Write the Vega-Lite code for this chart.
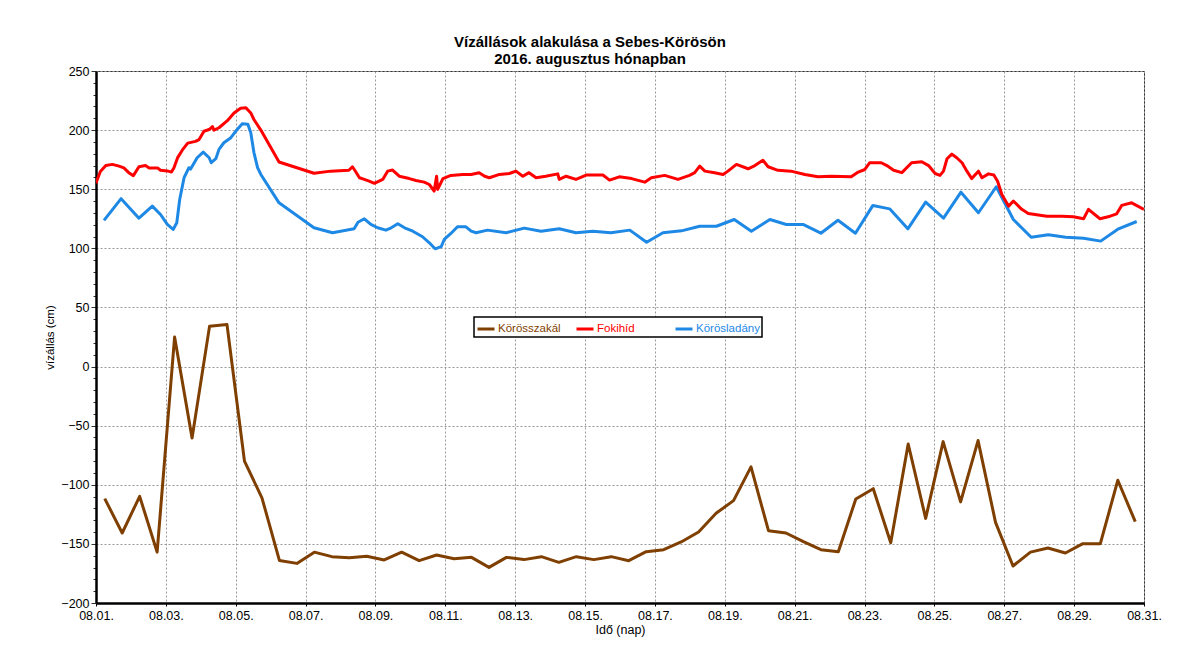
{
  "$schema": "https://vega.github.io/schema/vega-lite/v6.json",
  "width": 1048,
  "height": 532,
  "autosize": "none",
  "padding": {"left": 96, "top": 71, "right": 35, "bottom": 44},
  "background": "white",
  "title": {
    "text": ["Vízállások alakulása a Sebes-Körösön", "2016. augusztus hónapban"],
    "font": "Liberation Sans",
    "fontSize": 15,
    "fontWeight": "bold",
    "color": "black",
    "anchor": "middle",
    "dx": -30,
    "offset": -2,
    "lineHeight": 17
  },
  "config": {
    "view": {"stroke": "#333333", "strokeWidth": 1},
    "font": "Liberation Sans"
  },
  "data": {
    "values": [
      {"t": "2016-08-01T06:00", "s": "Körösszakál", "v": -111.7},
      {"t": "2016-08-01T18:00", "s": "Körösszakál", "v": -140.8},
      {"t": "2016-08-02T06:00", "s": "Körösszakál", "v": -109.8},
      {"t": "2016-08-02T18:00", "s": "Körösszakál", "v": -157},
      {"t": "2016-08-03T06:00", "s": "Körösszakál", "v": 25},
      {"t": "2016-08-03T18:00", "s": "Körösszakál", "v": -60.4},
      {"t": "2016-08-04T06:00", "s": "Körösszakál", "v": 34},
      {"t": "2016-08-04T18:00", "s": "Körösszakál", "v": 35.5},
      {"t": "2016-08-05T06:00", "s": "Körösszakál", "v": -80},
      {"t": "2016-08-05T18:00", "s": "Körösszakál", "v": -111},
      {"t": "2016-08-06T06:00", "s": "Körösszakál", "v": -164},
      {"t": "2016-08-06T18:00", "s": "Körösszakál", "v": -166.5},
      {"t": "2016-08-07T06:00", "s": "Körösszakál", "v": -157},
      {"t": "2016-08-07T18:00", "s": "Körösszakál", "v": -160.8},
      {"t": "2016-08-08T06:00", "s": "Körösszakál", "v": -161.7},
      {"t": "2016-08-08T18:00", "s": "Körösszakál", "v": -160.5},
      {"t": "2016-08-09T06:00", "s": "Körösszakál", "v": -163.6},
      {"t": "2016-08-09T18:00", "s": "Körösszakál", "v": -157},
      {"t": "2016-08-10T06:00", "s": "Körösszakál", "v": -164.2},
      {"t": "2016-08-10T18:00", "s": "Körösszakál", "v": -159.4},
      {"t": "2016-08-11T06:00", "s": "Körösszakál", "v": -162.5},
      {"t": "2016-08-11T18:00", "s": "Körösszakál", "v": -161.4},
      {"t": "2016-08-12T06:00", "s": "Körösszakál", "v": -169.9},
      {"t": "2016-08-12T18:00", "s": "Körösszakál", "v": -161.4},
      {"t": "2016-08-13T06:00", "s": "Körösszakál", "v": -163.3},
      {"t": "2016-08-13T18:00", "s": "Körösszakál", "v": -160.8},
      {"t": "2016-08-14T06:00", "s": "Körösszakál", "v": -165.6},
      {"t": "2016-08-14T18:00", "s": "Körösszakál", "v": -160.8},
      {"t": "2016-08-15T06:00", "s": "Körösszakál", "v": -163.3},
      {"t": "2016-08-15T18:00", "s": "Körösszakál", "v": -160.8},
      {"t": "2016-08-16T06:00", "s": "Körösszakál", "v": -164.2},
      {"t": "2016-08-16T18:00", "s": "Körösszakál", "v": -156.6},
      {"t": "2016-08-17T06:00", "s": "Körösszakál", "v": -154.9},
      {"t": "2016-08-17T18:00", "s": "Körösszakál", "v": -148.4},
      {"t": "2016-08-18T06:00", "s": "Körösszakál", "v": -139.9},
      {"t": "2016-08-18T18:00", "s": "Körösszakál", "v": -124.1},
      {"t": "2016-08-19T06:00", "s": "Körösszakál", "v": -113.4},
      {"t": "2016-08-19T18:00", "s": "Körösszakál", "v": -84.9},
      {"t": "2016-08-20T06:00", "s": "Körösszakál", "v": -138.8},
      {"t": "2016-08-20T18:00", "s": "Körösszakál", "v": -140.8},
      {"t": "2016-08-21T06:00", "s": "Körösszakál", "v": -148.1},
      {"t": "2016-08-21T18:00", "s": "Körösszakál", "v": -154.9},
      {"t": "2016-08-22T06:00", "s": "Körösszakál", "v": -156.6},
      {"t": "2016-08-22T18:00", "s": "Körösszakál", "v": -112},
      {"t": "2016-08-23T06:00", "s": "Körösszakál", "v": -103.3},
      {"t": "2016-08-23T18:00", "s": "Körösszakál", "v": -149},
      {"t": "2016-08-24T06:00", "s": "Körösszakál", "v": -65.5},
      {"t": "2016-08-24T18:00", "s": "Körösszakál", "v": -128.4},
      {"t": "2016-08-25T06:00", "s": "Körösszakál", "v": -63.5},
      {"t": "2016-08-25T18:00", "s": "Körösszakál", "v": -114.5},
      {"t": "2016-08-26T06:00", "s": "Körösszakál", "v": -62.6},
      {"t": "2016-08-26T18:00", "s": "Körösszakál", "v": -131.8},
      {"t": "2016-08-27T06:00", "s": "Körösszakál", "v": -168.7},
      {"t": "2016-08-27T18:00", "s": "Körösszakál", "v": -157},
      {"t": "2016-08-28T06:00", "s": "Körösszakál", "v": -153.5},
      {"t": "2016-08-28T18:00", "s": "Körösszakál", "v": -157.7},
      {"t": "2016-08-29T06:00", "s": "Körösszakál", "v": -149.8},
      {"t": "2016-08-29T18:00", "s": "Körösszakál", "v": -149.8},
      {"t": "2016-08-30T06:00", "s": "Körösszakál", "v": -96.2},
      {"t": "2016-08-30T18:00", "s": "Körösszakál", "v": -131.2},

      {"t": "2016-08-01T05:30", "s": "Körösladány", "v": 123.6},
      {"t": "2016-08-01T17:15", "s": "Körösladány", "v": 142},
      {"t": "2016-08-02T05:30", "s": "Körösladány", "v": 125.5},
      {"t": "2016-08-02T14:40", "s": "Körösladány", "v": 135.7},
      {"t": "2016-08-02T20:20", "s": "Körösladány", "v": 128.6},
      {"t": "2016-08-03T01:00", "s": "Körösladány", "v": 120.2},
      {"t": "2016-08-03T05:00", "s": "Körösladány", "v": 116},
      {"t": "2016-08-03T07:30", "s": "Körösladány", "v": 121.6},
      {"t": "2016-08-03T09:30", "s": "Körösladány", "v": 141.3},
      {"t": "2016-08-03T12:30", "s": "Körösladány", "v": 159.7},
      {"t": "2016-08-03T15:50", "s": "Körösladány", "v": 168.2},
      {"t": "2016-08-03T17:00", "s": "Körösladány", "v": 167},
      {"t": "2016-08-03T21:30", "s": "Körösladány", "v": 176.6},
      {"t": "2016-08-04T01:40", "s": "Körösladány", "v": 181.4},
      {"t": "2016-08-04T05:45", "s": "Körösladány", "v": 176.6},
      {"t": "2016-08-04T07:10", "s": "Körösladány", "v": 172.4},
      {"t": "2016-08-04T10:20", "s": "Körösladány", "v": 175.8},
      {"t": "2016-08-04T12:30", "s": "Körösladány", "v": 183.7},
      {"t": "2016-08-04T15:50", "s": "Körösladány", "v": 189.3},
      {"t": "2016-08-04T20:40", "s": "Körösladány", "v": 193.6},
      {"t": "2016-08-05T01:00", "s": "Körösladány", "v": 200.6},
      {"t": "2016-08-05T04:30", "s": "Körösladány", "v": 205.4},
      {"t": "2016-08-05T08:20", "s": "Körösladány", "v": 205},
      {"t": "2016-08-05T10:20", "s": "Körösladány", "v": 197.8},
      {"t": "2016-08-05T12:30", "s": "Körösladány", "v": 181},
      {"t": "2016-08-05T15:00", "s": "Körösladány", "v": 168.2},
      {"t": "2016-08-05T17:15", "s": "Körösladány", "v": 162.5},
      {"t": "2016-08-06T05:45", "s": "Körösladány", "v": 138.5},
      {"t": "2016-08-07T05:45", "s": "Körösladány", "v": 117.4},
      {"t": "2016-08-07T18:30", "s": "Körösladány", "v": 113.2},
      {"t": "2016-08-08T09:20", "s": "Körösladány", "v": 116.5},
      {"t": "2016-08-08T12:00", "s": "Körösladány", "v": 122.1},
      {"t": "2016-08-08T16:20", "s": "Körösladány", "v": 125},
      {"t": "2016-08-08T20:50", "s": "Körösladány", "v": 120.2},
      {"t": "2016-08-09T01:30", "s": "Körösladány", "v": 117.4},
      {"t": "2016-08-09T07:10", "s": "Körösladány", "v": 115.4},
      {"t": "2016-08-09T10:50", "s": "Körösladány", "v": 117.4},
      {"t": "2016-08-09T15:20", "s": "Körösladány", "v": 120.8},
      {"t": "2016-08-09T20:00", "s": "Körösladány", "v": 117.4},
      {"t": "2016-08-10T01:40", "s": "Körösladány", "v": 114.5},
      {"t": "2016-08-10T08:20", "s": "Körösladány", "v": 109.8},
      {"t": "2016-08-10T13:00", "s": "Körösladány", "v": 104.7},
      {"t": "2016-08-10T17:00", "s": "Körösladány", "v": 99.6},
      {"t": "2016-08-10T21:10", "s": "Körösladány", "v": 101.5},
      {"t": "2016-08-10T23:15", "s": "Körösladány", "v": 107.5},
      {"t": "2016-08-11T03:50", "s": "Körösladány", "v": 112.6},
      {"t": "2016-08-11T08:20", "s": "Körösladány", "v": 118.2},
      {"t": "2016-08-11T14:10", "s": "Körösladány", "v": 118.2},
      {"t": "2016-08-11T17:45", "s": "Körösladány", "v": 114.5},
      {"t": "2016-08-11T21:10", "s": "Körösladány", "v": 113.2},
      {"t": "2016-08-12T05:00", "s": "Körösladány", "v": 115.4},
      {"t": "2016-08-12T17:45", "s": "Körösladány", "v": 113.2},
      {"t": "2016-08-13T06:15", "s": "Körösladány", "v": 117.1},
      {"t": "2016-08-13T17:45", "s": "Körösladány", "v": 114.5},
      {"t": "2016-08-14T06:15", "s": "Körösladány", "v": 116.5},
      {"t": "2016-08-14T17:45", "s": "Körösladány", "v": 113.2},
      {"t": "2016-08-15T05:15", "s": "Körösladány", "v": 114.5},
      {"t": "2016-08-15T17:45", "s": "Körösladány", "v": 113.2},
      {"t": "2016-08-16T06:45", "s": "Körösladány", "v": 115.4},
      {"t": "2016-08-16T18:15", "s": "Körösladány", "v": 105.2},
      {"t": "2016-08-17T05:30", "s": "Körösladány", "v": 113.2},
      {"t": "2016-08-17T18:15", "s": "Körösladány", "v": 114.8},
      {"t": "2016-08-18T06:45", "s": "Körösladány", "v": 118.7},
      {"t": "2016-08-18T18:15", "s": "Körösladány", "v": 118.7},
      {"t": "2016-08-19T06:30", "s": "Körösladány", "v": 124.4},
      {"t": "2016-08-19T18:15", "s": "Körösladány", "v": 114.5},
      {"t": "2016-08-20T07:00", "s": "Körösladány", "v": 124.4},
      {"t": "2016-08-20T18:15", "s": "Körösladány", "v": 120.2},
      {"t": "2016-08-21T05:45", "s": "Körösladány", "v": 120.2},
      {"t": "2016-08-21T18:00", "s": "Körösladány", "v": 112.8},
      {"t": "2016-08-22T05:45", "s": "Körösladány", "v": 123.8},
      {"t": "2016-08-22T17:45", "s": "Körösladány", "v": 112.8},
      {"t": "2016-08-23T05:45", "s": "Körösladány", "v": 136.3},
      {"t": "2016-08-23T17:15", "s": "Körösladány", "v": 133.4},
      {"t": "2016-08-24T05:45", "s": "Körösladány", "v": 116.5},
      {"t": "2016-08-24T18:00", "s": "Körösladány", "v": 139.1},
      {"t": "2016-08-25T06:15", "s": "Körösladány", "v": 125.5},
      {"t": "2016-08-25T18:15", "s": "Körösladány", "v": 147.5},
      {"t": "2016-08-26T06:15", "s": "Körösladány", "v": 130.1},
      {"t": "2016-08-26T18:30", "s": "Körösladány", "v": 152.1},
      {"t": "2016-08-27T06:15", "s": "Körösladány", "v": 124.4},
      {"t": "2016-08-27T18:30", "s": "Körösladány", "v": 109.4},
      {"t": "2016-08-28T06:15", "s": "Körösladány", "v": 111.5},
      {"t": "2016-08-28T18:15", "s": "Körösladány", "v": 109.4},
      {"t": "2016-08-29T06:30", "s": "Körösladány", "v": 108.6},
      {"t": "2016-08-29T18:15", "s": "Körösladány", "v": 106.1},
      {"t": "2016-08-30T06:30", "s": "Körösladány", "v": 116.5},
      {"t": "2016-08-30T19:00", "s": "Körösladány", "v": 122.7},

      {"t": "2016-08-01T00:00", "s": "Fokihíd", "v": 155},
      {"t": "2016-08-01T00:30", "s": "Fokihíd", "v": 157},
      {"t": "2016-08-01T03:00", "s": "Fokihíd", "v": 165},
      {"t": "2016-08-01T06:45", "s": "Fokihíd", "v": 170},
      {"t": "2016-08-01T11:15", "s": "Fokihíd", "v": 171},
      {"t": "2016-08-01T15:50", "s": "Fokihíd", "v": 169.5},
      {"t": "2016-08-01T19:10", "s": "Fokihíd", "v": 168},
      {"t": "2016-08-01T22:30", "s": "Fokihíd", "v": 164},
      {"t": "2016-08-02T01:40", "s": "Fokihíd", "v": 161.5},
      {"t": "2016-08-02T05:30", "s": "Fokihíd", "v": 169},
      {"t": "2016-08-02T10:00", "s": "Fokihíd", "v": 170},
      {"t": "2016-08-02T12:30", "s": "Fokihíd", "v": 168},
      {"t": "2016-08-02T18:15", "s": "Fokihíd", "v": 168},
      {"t": "2016-08-02T20:20", "s": "Fokihíd", "v": 166},
      {"t": "2016-08-03T01:00", "s": "Fokihíd", "v": 165.5},
      {"t": "2016-08-03T03:50", "s": "Fokihíd", "v": 164.5},
      {"t": "2016-08-03T05:30", "s": "Fokihíd", "v": 168},
      {"t": "2016-08-03T08:00", "s": "Fokihíd", "v": 176.5},
      {"t": "2016-08-03T11:15", "s": "Fokihíd", "v": 183},
      {"t": "2016-08-03T15:00", "s": "Fokihíd", "v": 189},
      {"t": "2016-08-03T20:20", "s": "Fokihíd", "v": 190.5},
      {"t": "2016-08-03T22:50", "s": "Fokihíd", "v": 192},
      {"t": "2016-08-04T02:10", "s": "Fokihíd", "v": 199},
      {"t": "2016-08-04T05:45", "s": "Fokihíd", "v": 200.5},
      {"t": "2016-08-04T08:00", "s": "Fokihíd", "v": 203},
      {"t": "2016-08-04T09:00", "s": "Fokihíd", "v": 200},
      {"t": "2016-08-04T12:30", "s": "Fokihíd", "v": 202},
      {"t": "2016-08-04T18:15", "s": "Fokihíd", "v": 208},
      {"t": "2016-08-04T22:50", "s": "Fokihíd", "v": 214.5},
      {"t": "2016-08-05T03:20", "s": "Fokihíd", "v": 218.5},
      {"t": "2016-08-05T07:00", "s": "Fokihíd", "v": 219},
      {"t": "2016-08-05T10:20", "s": "Fokihíd", "v": 214.5},
      {"t": "2016-08-05T12:30", "s": "Fokihíd", "v": 209},
      {"t": "2016-08-05T17:15", "s": "Fokihíd", "v": 200},
      {"t": "2016-08-06T05:45", "s": "Fokihíd", "v": 173},
      {"t": "2016-08-07T05:45", "s": "Fokihíd", "v": 163.5},
      {"t": "2016-08-07T17:15", "s": "Fokihíd", "v": 165.3},
      {"t": "2016-08-08T05:45", "s": "Fokihíd", "v": 166},
      {"t": "2016-08-08T08:10", "s": "Fokihíd", "v": 169},
      {"t": "2016-08-08T10:20", "s": "Fokihíd", "v": 165},
      {"t": "2016-08-08T13:00", "s": "Fokihíd", "v": 159.7},
      {"t": "2016-08-08T16:20", "s": "Fokihíd", "v": 158.3},
      {"t": "2016-08-08T19:40", "s": "Fokihíd", "v": 156.8},
      {"t": "2016-08-08T23:15", "s": "Fokihíd", "v": 155},
      {"t": "2016-08-09T05:00", "s": "Fokihíd", "v": 158.3},
      {"t": "2016-08-09T08:20", "s": "Fokihíd", "v": 165.3},
      {"t": "2016-08-09T11:45", "s": "Fokihíd", "v": 166.2},
      {"t": "2016-08-09T16:20", "s": "Fokihíd", "v": 161},
      {"t": "2016-08-09T23:15", "s": "Fokihíd", "v": 159},
      {"t": "2016-08-10T03:50", "s": "Fokihíd", "v": 157.4},
      {"t": "2016-08-10T09:30", "s": "Fokihíd", "v": 156},
      {"t": "2016-08-10T13:00", "s": "Fokihíd", "v": 154},
      {"t": "2016-08-10T16:20", "s": "Fokihíd", "v": 148.4},
      {"t": "2016-08-10T18:00", "s": "Fokihíd", "v": 161},
      {"t": "2016-08-10T18:45", "s": "Fokihíd", "v": 149.8},
      {"t": "2016-08-10T22:20", "s": "Fokihíd", "v": 159},
      {"t": "2016-08-11T03:50", "s": "Fokihíd", "v": 161.7},
      {"t": "2016-08-11T12:00", "s": "Fokihíd", "v": 162.5},
      {"t": "2016-08-11T17:45", "s": "Fokihíd", "v": 162.5},
      {"t": "2016-08-11T23:15", "s": "Fokihíd", "v": 164},
      {"t": "2016-08-12T03:00", "s": "Fokihíd", "v": 161},
      {"t": "2016-08-12T06:15", "s": "Fokihíd", "v": 159.7},
      {"t": "2016-08-12T13:10", "s": "Fokihíd", "v": 162.5},
      {"t": "2016-08-12T20:00", "s": "Fokihíd", "v": 163.3},
      {"t": "2016-08-13T00:30", "s": "Fokihíd", "v": 165.3},
      {"t": "2016-08-13T05:15", "s": "Fokihíd", "v": 161},
      {"t": "2016-08-13T09:30", "s": "Fokihíd", "v": 164},
      {"t": "2016-08-13T14:20", "s": "Fokihíd", "v": 159.7},
      {"t": "2016-08-13T21:00", "s": "Fokihíd", "v": 161},
      {"t": "2016-08-14T05:15", "s": "Fokihíd", "v": 163},
      {"t": "2016-08-14T06:15", "s": "Fokihíd", "v": 158.3},
      {"t": "2016-08-14T11:00", "s": "Fokihíd", "v": 161},
      {"t": "2016-08-14T17:45", "s": "Fokihíd", "v": 158.3},
      {"t": "2016-08-15T00:45", "s": "Fokihíd", "v": 162},
      {"t": "2016-08-15T12:15", "s": "Fokihíd", "v": 162},
      {"t": "2016-08-15T16:50", "s": "Fokihíd", "v": 157.7},
      {"t": "2016-08-15T23:30", "s": "Fokihíd", "v": 160.5},
      {"t": "2016-08-16T08:00", "s": "Fokihíd", "v": 159},
      {"t": "2016-08-16T17:00", "s": "Fokihíd", "v": 156},
      {"t": "2016-08-16T21:30", "s": "Fokihíd", "v": 159.7},
      {"t": "2016-08-17T06:45", "s": "Fokihíd", "v": 161.7},
      {"t": "2016-08-17T15:50", "s": "Fokihíd", "v": 158.3},
      {"t": "2016-08-17T23:45", "s": "Fokihíd", "v": 161.7},
      {"t": "2016-08-18T03:20", "s": "Fokihíd", "v": 164},
      {"t": "2016-08-18T06:45", "s": "Fokihíd", "v": 169.5},
      {"t": "2016-08-18T10:20", "s": "Fokihíd", "v": 165.3},
      {"t": "2016-08-18T17:00", "s": "Fokihíd", "v": 164},
      {"t": "2016-08-18T22:50", "s": "Fokihíd", "v": 162.5},
      {"t": "2016-08-19T02:10", "s": "Fokihíd", "v": 165.3},
      {"t": "2016-08-19T08:00", "s": "Fokihíd", "v": 171},
      {"t": "2016-08-19T16:00", "s": "Fokihíd", "v": 167.3},
      {"t": "2016-08-19T20:40", "s": "Fokihíd", "v": 170},
      {"t": "2016-08-20T02:10", "s": "Fokihíd", "v": 174.5},
      {"t": "2016-08-20T05:45", "s": "Fokihíd", "v": 169},
      {"t": "2016-08-20T12:30", "s": "Fokihíd", "v": 166},
      {"t": "2016-08-20T21:30", "s": "Fokihíd", "v": 165.3},
      {"t": "2016-08-21T07:00", "s": "Fokihíd", "v": 162.5},
      {"t": "2016-08-21T16:00", "s": "Fokihíd", "v": 160.5},
      {"t": "2016-08-22T01:10", "s": "Fokihíd", "v": 161},
      {"t": "2016-08-22T14:50", "s": "Fokihíd", "v": 160.5},
      {"t": "2016-08-22T19:40", "s": "Fokihíd", "v": 164.5},
      {"t": "2016-08-23T00:15", "s": "Fokihíd", "v": 166.7},
      {"t": "2016-08-23T03:30", "s": "Fokihíd", "v": 172.4},
      {"t": "2016-08-23T11:30", "s": "Fokihíd", "v": 172.4},
      {"t": "2016-08-23T15:20", "s": "Fokihíd", "v": 170},
      {"t": "2016-08-23T20:00", "s": "Fokihíd", "v": 166},
      {"t": "2016-08-24T01:40", "s": "Fokihíd", "v": 164},
      {"t": "2016-08-24T08:20", "s": "Fokihíd", "v": 172.4},
      {"t": "2016-08-24T15:20", "s": "Fokihíd", "v": 173.2},
      {"t": "2016-08-24T20:00", "s": "Fokihíd", "v": 170},
      {"t": "2016-08-25T00:30", "s": "Fokihíd", "v": 163.3},
      {"t": "2016-08-25T03:50", "s": "Fokihíd", "v": 161.7},
      {"t": "2016-08-25T06:15", "s": "Fokihíd", "v": 165.3},
      {"t": "2016-08-25T08:40", "s": "Fokihíd", "v": 175.8},
      {"t": "2016-08-25T12:00", "s": "Fokihíd", "v": 179.7},
      {"t": "2016-08-25T15:20", "s": "Fokihíd", "v": 176.6},
      {"t": "2016-08-25T19:00", "s": "Fokihíd", "v": 172.4},
      {"t": "2016-08-25T22:20", "s": "Fokihíd", "v": 165.3},
      {"t": "2016-08-26T01:40", "s": "Fokihíd", "v": 159},
      {"t": "2016-08-26T06:15", "s": "Fokihíd", "v": 165.3},
      {"t": "2016-08-26T08:40", "s": "Fokihíd", "v": 159.7},
      {"t": "2016-08-26T13:10", "s": "Fokihíd", "v": 163},
      {"t": "2016-08-26T16:50", "s": "Fokihíd", "v": 162},
      {"t": "2016-08-26T19:25", "s": "Fokihíd", "v": 156.8},
      {"t": "2016-08-26T22:20", "s": "Fokihíd", "v": 145.6},
      {"t": "2016-08-27T03:00", "s": "Fokihíd", "v": 135.7},
      {"t": "2016-08-27T06:15", "s": "Fokihíd", "v": 140},
      {"t": "2016-08-27T12:00", "s": "Fokihíd", "v": 133},
      {"t": "2016-08-27T16:30", "s": "Fokihíd", "v": 129.5},
      {"t": "2016-08-28T05:15", "s": "Fokihíd", "v": 127.2},
      {"t": "2016-08-28T15:30", "s": "Fokihíd", "v": 127.2},
      {"t": "2016-08-28T23:30", "s": "Fokihíd", "v": 126.7},
      {"t": "2016-08-29T06:30", "s": "Fokihíd", "v": 125},
      {"t": "2016-08-29T09:50", "s": "Fokihíd", "v": 133},
      {"t": "2016-08-29T17:45", "s": "Fokihíd", "v": 125},
      {"t": "2016-08-30T00:45", "s": "Fokihíd", "v": 127.2},
      {"t": "2016-08-30T05:15", "s": "Fokihíd", "v": 129.2},
      {"t": "2016-08-30T08:40", "s": "Fokihíd", "v": 136.3},
      {"t": "2016-08-30T15:30", "s": "Fokihíd", "v": 138.5},
      {"t": "2016-08-31T00:00", "s": "Fokihíd", "v": 133}
    ]
  },
  "mark": {"type": "line", "strokeWidth": 3, "strokeJoin": "round", "clip": true},
  "encoding": {
    "x": {
      "field": "t",
      "type": "temporal",
      "scale": {
        "domain": [
          {"year": 2016, "month": 8, "date": 1},
          {"year": 2016, "month": 8, "date": 31}
        ]
      },
      "axis": {
        "title": "Idő (nap)",
        "titleFont": "Liberation Sans",
        "titleFontSize": 12.5,
        "titleFontWeight": "normal",
        "titleColor": "black",
        "titlePadding": 2,
        "values": [
          {"year": 2016, "month": 8, "date": 1},
          {"year": 2016, "month": 8, "date": 3},
          {"year": 2016, "month": 8, "date": 5},
          {"year": 2016, "month": 8, "date": 7},
          {"year": 2016, "month": 8, "date": 9},
          {"year": 2016, "month": 8, "date": 11},
          {"year": 2016, "month": 8, "date": 13},
          {"year": 2016, "month": 8, "date": 15},
          {"year": 2016, "month": 8, "date": 17},
          {"year": 2016, "month": 8, "date": 19},
          {"year": 2016, "month": 8, "date": 21},
          {"year": 2016, "month": 8, "date": 23},
          {"year": 2016, "month": 8, "date": 25},
          {"year": 2016, "month": 8, "date": 27},
          {"year": 2016, "month": 8, "date": 29},
          {"year": 2016, "month": 8, "date": 31}
        ],
        "format": "%m.%d.",
        "labelFont": "Liberation Sans",
        "labelFontSize": 12.5,
        "labelColor": "black",
        "labelPadding": 3,
        "labelOverlap": false,
        "labelFlush": false,
        "grid": true,
        "gridColor": "#999999",
        "gridDash": [2, 2],
        "gridWidth": 1,
        "domainColor": "black",
        "domainWidth": 2.5,
        "tickColor": "black",
        "tickSize": 3,
        "tickWidth": 1
      }
    },
    "y": {
      "field": "v",
      "type": "quantitative",
      "scale": {"domain": [-200, 250], "nice": false, "zero": false},
      "axis": {
        "title": "vízállás (cm)",
        "titleFont": "Liberation Sans",
        "titleFontSize": 11.5,
        "titleFontWeight": "normal",
        "titleColor": "black",
        "titlePadding": 5,
        "values": [-200, -190, -180, -170, -160, -150, -140, -130, -120, -110, -100, -90, -80, -70, -60, -50, -40, -30, -20, -10, 0, 10, 20, 30, 40, 50, 60, 70, 80, 90, 100, 110, 120, 130, 140, 150, 160, 170, 180, 190, 200, 210, 220, 230, 240, 250],
        "labelExpr": "datum.value % 50 === 0 ? datum.label : ''",
        "labelFont": "Liberation Sans",
        "labelFontSize": 12.5,
        "labelColor": "black",
        "labelPadding": 2,
        "labelOverlap": false,
        "labelFlush": false,
        "grid": true,
        "gridColor": "#999999",
        "gridDash": [2, 2],
        "gridWidth": 1,
        "gridOpacity": {"condition": {"test": "datum.value % 50 !== 0", "value": 0}, "value": 1},
        "domainColor": "black",
        "domainWidth": 2.5,
        "tickColor": "#333333",
        "tickSize": {"condition": {"test": "datum.value % 50 !== 0", "value": 3}, "value": 5},
        "tickWidth": 1
      }
    },
    "color": {
      "field": "s",
      "type": "nominal",
      "scale": {
        "domain": ["Körösszakál", "Fokihíd", "Körösladány"],
        "range": ["#7F3F00", "#FF0000", "#1E88E5"]
      },
      "legend": {
        "title": null,
        "orient": "none",
        "legendX": 378,
        "legendY": 246,
        "direction": "horizontal",
        "columns": 3,
        "gridAlign": "all",
        "columnPadding": 8,
        "padding": 2,
        "strokeColor": "black",
        "fillColor": "white",
        "symbolType": "stroke",
        "symbolStrokeWidth": 3,
        "symbolSize": 289,
        "labelFont": "Liberation Sans",
        "labelFontSize": 11.5,
        "labelOffset": 2,
        "encode": {
          "legend": {"update": {"strokeWidth": {"value": 1.5}}},
          "labels": {"update": {"fill": {"scale": "color", "field": "value"}}}
        }
      }
    }
  }
}
